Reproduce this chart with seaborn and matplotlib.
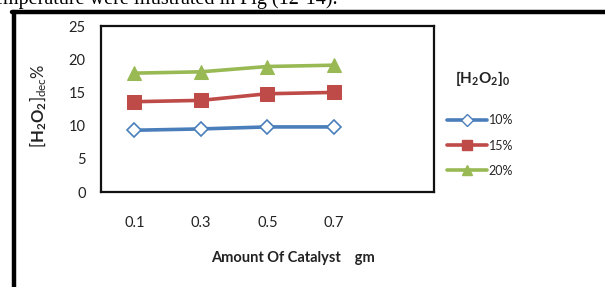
import matplotlib
matplotlib.use("Agg")
import matplotlib.pyplot as plt
import seaborn as sns
import pandas as pd
from matplotlib.lines import Line2D

categories = ["0.1", "0.3", "0.5", "0.7"]
series_names = ["10%", "15%", "20%"]
vals_10 = [9.3, 9.5, 9.8, 9.8]
vals_15 = [13.6, 13.8, 14.8, 15.0]
vals_20 = [17.9, 18.1, 18.9, 19.1]
y_ticks = [0, 5, 10, 15, 20, 25]

sns.set_theme(style="white")
plt.rcParams['font.family'] = ['Lato', 'DejaVu Sans']
plt.rcParams['mathtext.fontset'] = 'custom'
plt.rcParams['mathtext.rm'] = 'Lato'
plt.rcParams['mathtext.bf'] = 'Lato:bold'
plt.rcParams['mathtext.it'] = 'Lato'

df = pd.DataFrame({
    "cat": categories * 3,
    "val": vals_10 + vals_15 + vals_20,
    "series": [series_names[0]] * 4 + [series_names[1]] * 4 + [series_names[2]] * 4,
})

fig = plt.figure(figsize=(6.05, 2.87), dpi=100)
fig.patch.set_facecolor("white")
ax = fig.add_axes([0.1669, 0.331, 0.5504, 0.5784])

colors = {"10%": "#4a7ebb", "15%": "#be4b48", "20%": "#98b954"}
markers = {"10%": "D", "15%": "s", "20%": "^"}
msizes = {"10%": 7.5, "15%": 9.5, "20%": 10.5}
for s in series_names:
    sub = df[df["series"] == s]
    c = colors[s]
    kw = dict(markerfacecolor="white", markeredgecolor=c, markeredgewidth=1.2) if s == "10%" else dict(markerfacecolor=c, markeredgecolor=c)
    sns.lineplot(data=sub, x="cat", y="val", ax=ax, color=c, linewidth=2.6,
                 marker=markers[s], markersize=msizes[s], legend=False, **kw)

ax.set_xlim(-0.5, 4.5)
ax.set_ylim(0, 25)
ax.set_yticks(y_ticks)
ax.set_yticklabels([str(t) for t in y_ticks], fontsize=10.5, color="#222222")
ax.set_xticks([i - 0.5 for i in range(6)])
ax.set_xticklabels([""] * 6)
ax.set_xticks(list(range(len(categories))), minor=True)
ax.set_xticklabels(categories, minor=True, fontsize=10.5, color="#222222")
ax.tick_params(axis="x", which="minor", length=0, pad=17)
ax.tick_params(axis="both", which="major", length=5, width=1, color="#555555", direction="out")
ax.tick_params(axis="y", pad=6)
for sp in ax.spines.values():
    sp.set_color("#111111")
    sp.set_linewidth(1.6)
ax.set_xlabel("")
ax.set_ylabel("")

fig.text(0.485, 0.10, "Amount Of Catalyst    gm", ha="center", va="center",
         fontsize=10.5, fontweight="bold", color="#222222")
fig.text(0.063, 0.63, r"$[\mathbf{H_2O_2}]_{dec}\%$", ha="center", va="center",
         rotation=90, fontsize=12, color="#222222")

# legend
fig.text(0.752, 0.725, r"$\mathbf{[H_2O_2]_0}$", ha="left", va="center", fontsize=11, color="#222222")
handles = [Line2D([0], [0], color=colors[s], lw=2.6, marker=markers[s],
                  markersize=msizes[s] * 0.75,
                  markerfacecolor=("white" if s == "10%" else colors[s]),
                  markeredgecolor=colors[s]) for s in series_names]
leg = fig.legend(handles, series_names, loc="upper left", bbox_to_anchor=(0.728, 0.623),
                 frameon=False, fontsize=9, handlelength=3.2, handletextpad=0.15,
                 labelspacing=1.05, borderpad=0)

# document context: frame and cropped text
fig.add_artist(Line2D([0.0231, 0.0231], [0.958, 0.0], transform=fig.transFigure, color="black", lw=3.2))
fig.add_artist(Line2D([0.0205, 1.0], [0.958, 0.958], transform=fig.transFigure, color="black", lw=3.2))
fig.text(-0.01, 0.986, "emperature were illustrated in Fig (12-14).", ha="left", va="baseline",
         fontsize=14.5, family=["Liberation Serif", "DejaVu Serif"], color="black")

fig.savefig("out.png", dpi=100, facecolor="white")
